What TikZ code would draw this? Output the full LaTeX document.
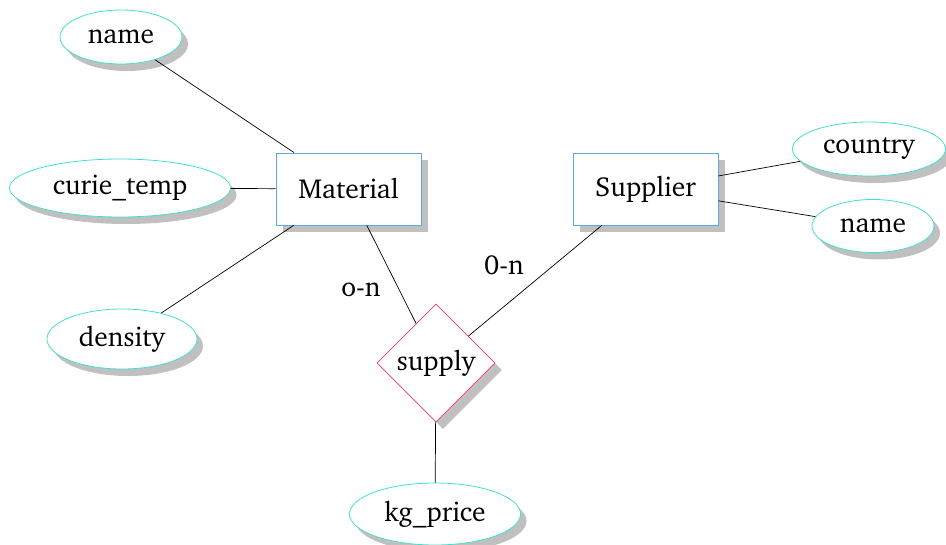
\documentclass[tikz,border=0pt]{standalone}
\usepackage[T1]{fontenc}
\usepackage{charter}
\usetikzlibrary{shapes.geometric,shadows}
\definecolor{attrc}{RGB}{64,224,208}
\definecolor{entc}{RGB}{90,170,230}
\definecolor{relc}{RGB}{240,60,120}
\definecolor{shc}{RGB}{192,192,192}
\tikzset{
  lbl/.style={font=\fontsize{27.5}{32}\selectfont},
  attr/.style={ellipse, draw=attrc, line width=0.8pt, fill=white, inner sep=0pt, lbl,
    drop shadow={shadow xshift=6pt, shadow yshift=-7pt, fill=shc, opacity=1}},
  ent/.style={rectangle, draw=entc, line width=0.8pt, fill=white, inner sep=0pt, lbl,
    minimum width=145pt, minimum height=72pt,
    drop shadow={shadow xshift=7pt, shadow yshift=-7pt, fill=shc, opacity=1}},
  rel/.style={diamond, aspect=1, draw=relc, line width=0.8pt, fill=white, inner sep=0pt, lbl,
    minimum width=118pt, minimum height=118pt,
    drop shadow={shadow xshift=7pt, shadow yshift=-7pt, fill=shc, opacity=1}},
  conn/.style={draw=black, line width=0.7pt},
  card/.style={lbl}
}
\begin{document}
\begin{tikzpicture}[x=1pt,y=-1pt]
\useasboundingbox (0,0) rectangle (946,545);
% nodes
\node[ent] (mat) at (348.5,189) {Material};
\node[ent] (sup) at (645.5,189) {Supplier};
\node[rel] (rel) at (436,363) {supply};
\node[attr, minimum width=122pt, minimum height=54pt] (name1) at (121,37) {name};
\node[attr, minimum width=221pt, minimum height=58pt] (curie) at (120,188) {curie\_temp};
\node[attr, minimum width=150pt, minimum height=60pt] (dens) at (122,339) {density};
\node[attr, minimum width=153pt, minimum height=54pt] (country) at (869,149) {country};
\node[attr, minimum width=122pt, minimum height=53pt] (name2) at (873,226) {name};
\node[attr, minimum width=171pt, minimum height=62pt] (kg) at (435,514) {kg\_price};
% connectors
\draw[conn] (name1) -- (mat);
\draw[conn] (curie) -- (mat);
\draw[conn] (dens) -- (mat);
\draw[conn] (mat) -- (rel);
\draw[conn] (sup) -- (rel);
\draw[conn] (rel) -- (kg);
\draw[conn] (sup) -- (country);
\draw[conn] (sup) -- (name2);
% cardinalities
\node[card] (c1) at (361,290) {o-n};
\node[card] (c2) at (504,265) {0-n};
\end{tikzpicture}
\end{document}
